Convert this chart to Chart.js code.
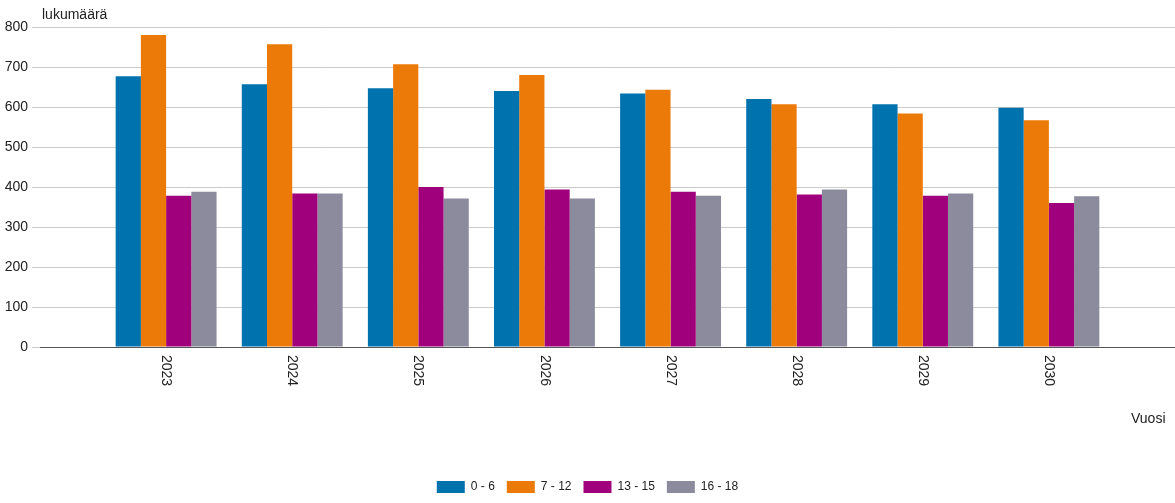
<!DOCTYPE html><html><head><meta charset="utf-8">
<script src="https://cdn.jsdelivr.net/npm/chart.js@4/dist/chart.umd.min.js"></script>
<style>body{margin:0;font-family:Arial,"Liberation Sans",sans-serif}#w{position:relative;width:1175px;height:503px}
.t{position:absolute;font-size:14px;color:#222}</style></head><body>
<div id="w"><canvas id="c" width="1175" height="503"></canvas>
<div class="t" style="left:42px;top:6px">lukumäärä</div>
<div class="t" style="left:1131px;top:410px">Vuosi</div></div>
<script>
const categories=['','2023','2024','2025','2026','2027','2028','2029','2030',''];
const s0_6=[null,677,657,647,640,634,620,607,598,null];
const s7_12=[null,780,757,707,680,643,607,584,567,null];
const s13_15=[null,378,384,400,394,388,381,378,360,null];
const s16_18=[null,388,384,371,371,378,394,384,377,null];
const yTicks=[0,100,200,300,400,500,600,700,800];
const mk=(l,d,c)=>({label:l,data:d,backgroundColor:c,categoryPercentage:0.8,barPercentage:1});
const rotLabels={id:'rl',afterDraw(ch){const x=ch.scales.x,ctx=ch.ctx;ctx.save();ctx.font='14px Arial, "Liberation Sans", sans-serif';ctx.fillStyle='#222';ctx.textAlign='left';ctx.textBaseline='middle';
categories.forEach((c,i)=>{if(!c)return;ctx.save();ctx.translate(x.getPixelForValue(i),ch.chartArea.bottom+8);ctx.rotate(Math.PI/2);ctx.fillText(c,0,0);ctx.restore();});ctx.restore();}};
new Chart(document.getElementById('c'),{type:'bar',data:{labels:categories,datasets:[
mk('0 - 6',s0_6,'#0072ae'),mk('7 - 12',s7_12,'#ec7a08'),mk('13 - 15',s13_15,'#a1007d'),mk('16 - 18',s16_18,'#8b8b9d')]},
plugins:[rotLabels],
options:{responsive:false,animation:false,layout:{padding:{top:27,right:0,left:0,bottom:0}},
plugins:{legend:{position:'bottom',labels:{boxWidth:28,boxHeight:12,color:'#222',font:{size:12},padding:12}},tooltip:{enabled:false}},
scales:{x:{offset:false,grid:{display:false},border:{color:'#555'},ticks:{display:false},afterFit:a=>{a.height=122}},
y:{min:0,max:800,afterBuildTicks:a=>{a.ticks=yTicks.map(v=>({value:v}))},afterFit:a=>{a.width=40},grid:{color:'#ccc'},border:{display:false},ticks:{color:'#222',font:{size:14},padding:4}}}}});
</script></body></html>
